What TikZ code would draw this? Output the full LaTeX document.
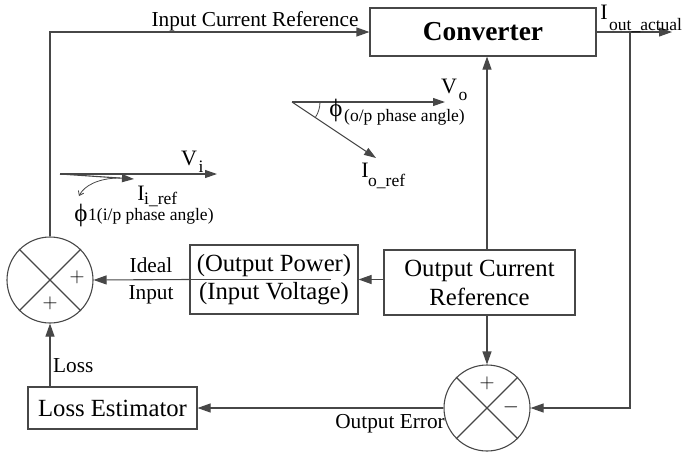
\documentclass[tikz,border=0pt]{standalone}
\usepackage{fontspec}
\setmainfont{Liberation Serif}
\usetikzlibrary{arrows.meta}
\begin{document}
\begin{tikzpicture}[x=1pt,y=-1pt,
 ln/.style={draw=black!72, line width=1.1pt},
 arr/.style={ln, -{Triangle[length=13pt,width=9pt]}},
 parr/.style={ln, -{Triangle[length=12pt,width=8pt]}},
 blk/.style={ln, rectangle, inner sep=0pt, font=\fontsize{24.7}{29}\selectfont, align=center},
 sumc/.style={ln, circle, minimum size=86pt, inner sep=0pt},
 lbl/.style={inner sep=0pt, font=\fontsize{21.3}{24}\selectfont},
 subl/.style={inner sep=0pt, font=\fontsize{17.5}{20}\selectfont},
 bigl/.style={inner sep=0pt, font=\fontsize{22}{24}\selectfont},
 phil/.style={inner sep=0pt, font=\fontsize{25}{26}\selectfont},
 sgn/.style={inner sep=0pt, font=\fontsize{20}{20}\selectfont},
]
\useasboundingbox (0,0) rectangle (686,451);

% blocks
\node[blk, minimum width=226pt, minimum height=48pt, font=\fontsize{27.4}{30}\selectfont\bfseries] (conv) at (483,32) {Converter};
\node[blk, minimum width=191pt, minimum height=65pt] (ocr) at (479.5,282.5) {Output Current\\Reference};
\node[blk, minimum width=168pt, minimum height=69pt, font=\fontsize{24.7}{28}\selectfont] (pw) at (274,279.5) {(Output Power)\\(Input Voltage)};
\node[blk, minimum width=169pt, minimum height=42pt] (le) at (112.5,408) {Loss Estimator};

% summing junctions
\node[sumc] (sum) at (50,280) {};
\node[sumc] (err) at (487,408) {};
\draw[ln] (sum.45) -- (sum.225) (sum.135) -- (sum.315);
\draw[ln] (err.45) -- (err.225) (err.135) -- (err.315);
\node[sgn] (p1) at (77,277) {$+$};
\node[sgn] (p2) at (50,303) {$+$};
\node[sgn] (p3) at (487,383) {$+$};
\node[sgn, font=\fontsize{22}{22}\selectfont] (m1) at (511,407) {$-$};

% connectors
\draw[arr] (sum.north) |- (conv.west);
\node[lbl, anchor=base] (icr) at (255,26) {Input Current Reference};
\coordinate (oe) at (672,32);
\draw[arr] (conv.east) -- (oe);
\coordinate (br) at (630,32);
\draw[arr] (br) |- (err.east);
\node[bigl, anchor=base] (iout) at (604,19) {I};
\node[subl, anchor=base west] (ioutsub) at (609,30) {out\_actual};
\draw[arr] (err.north |- ocr.north) -- (err.north |- conv.south);
\draw[arr] (err.north |- ocr.south) -- (err.north);
\draw[arr] (ocr.west |- pw.east) -- (pw.east);
\draw[ln] (pw.west) -- ++(142,0);
\draw[arr] (pw.west) -- (sum.east);
\draw[arr] (err.west) -- (le.east);
\draw[arr] (le.north -| sum.south) -- (sum.south);

\node[lbl, anchor=base] (ideal) at (151,272) {Ideal};
\node[lbl, anchor=base] (input) at (151,299) {Input};
\node[lbl, anchor=base west] (loss) at (53,372) {Loss};
\node[lbl, anchor=base east] (oerr) at (445,428) {Output Error};

% input phasor diagram
\coordinate (vio) at (60,174);
\coordinate (vi) at (217,174);
\coordinate (iir) at (134,179);
\draw[parr] (vio) -- (vi);
\draw[parr] (vio) -- (iir);
\draw[ln, line width=0.8pt, -{Straight Barb[length=4pt,width=6pt]}] (120,178) .. controls (98,178) and (84,186) .. (79,196);
\node[bigl, anchor=base] (vil) at (189,165) {V};
\node[subl, anchor=base] (vis) at (201,172) {i};
\node[bigl, anchor=base] (iil) at (141,200) {I};
\node[subl, anchor=base west] (iis) at (144,204) {i\_ref};
\node[phil, anchor=base] (phi1) at (81,221) {ϕ};
\node[subl, anchor=base west] (phi1s) at (88,220) {1(i/p phase angle)};

% output phasor diagram
\coordinate (voo) at (292,102);
\coordinate (vo) at (445,102);
\coordinate (ior) at (376,158);
\draw[parr] (voo) -- (vo);
\draw[parr] (voo) -- (ior);
\draw[ln, line width=0.8pt] (320,102) arc[start angle=0, end angle=34, radius=28];
\node[bigl, anchor=base] (vol) at (449,93) {V};
\node[subl, anchor=base] (vos) at (463,100) {o};
\node[bigl, anchor=base] (iol) at (365,177) {I};
\node[subl, anchor=base west] (ios) at (368,186) {o\_ref};
\node[phil, anchor=base] (phio) at (336,116) {ϕ};
\node[subl, anchor=base west] (phios) at (344,121) {(o/p phase angle)};
\end{tikzpicture}
\end{document}
